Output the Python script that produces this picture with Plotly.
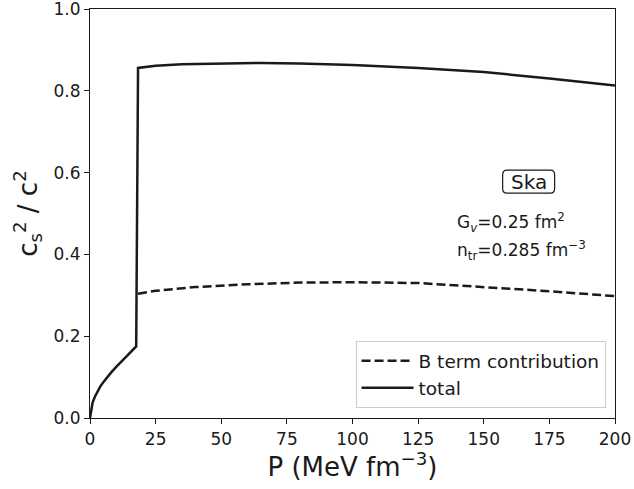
import plotly.graph_objects as go

# Speed of sound squared vs pressure (Ska, Gv = 0.25 fm^2, n_tr = 0.285 fm^-3)
P_total = [0, 0.5, 1, 2, 3, 4, 5, 6, 8, 10, 12, 14, 16, 17.6,
           18.3, 25, 35, 50, 65, 80, 100, 125, 150, 175, 200]
cs2_total = [0.0, 0.026, 0.038, 0.054, 0.067, 0.078, 0.087, 0.096, 0.111, 0.125,
             0.138, 0.151, 0.164, 0.175,
             0.856, 0.861, 0.865, 0.867, 0.868, 0.867, 0.863, 0.856, 0.846, 0.830, 0.813]

P_bterm = [18.3, 25, 40, 60, 80, 100, 125, 150, 175, 200]
cs2_bterm = [0.304, 0.311, 0.320, 0.327, 0.331, 0.332, 0.330, 0.320, 0.310, 0.298]

x_ticks = [0, 25, 50, 75, 100, 125, 150, 175, 200]
y_ticks = [0.0, 0.2, 0.4, 0.6, 0.8, 1.0]

FONT = "DejaVu Sans"
INK = "#1a1a1a"


def rounded_box(x0, x1, y0, y1, rx, ry):
    """SVG path for a rectangle with rounded corners (data units)."""
    return (f"M {x0 + rx},{y0} L {x1 - rx},{y0} Q {x1},{y0} {x1},{y0 + ry} "
            f"L {x1},{y1 - ry} Q {x1},{y1} {x1 - rx},{y1} "
            f"L {x0 + rx},{y1} Q {x0},{y1} {x0},{y1 - ry} "
            f"L {x0},{y0 + ry} Q {x0},{y0} {x0 + rx},{y0} Z")


fig = go.Figure()
fig.add_trace(go.Scatter(
    x=P_bterm, y=cs2_bterm, mode="lines", name="B term contribution",
    line=dict(color=INK, width=2.5, dash="9px,4px"),
))
fig.add_trace(go.Scatter(
    x=P_total, y=cs2_total, mode="lines", name="total",
    line=dict(color=INK, width=2.5),
))

# model label in a rounded frame
fig.add_shape(type="path", xref="x", yref="y",
              path=rounded_box(157.2, 177.0, 0.550, 0.606, 1.6, 0.012),
              line=dict(color=INK, width=1.2), fillcolor="white", layer="above")
fig.add_annotation(x=167.1, y=0.578, xref="x", yref="y", text="Ska",
                   showarrow=False, font=dict(family=FONT, size=20, color=INK))
fig.add_annotation(x=138.9, y=0.478, xref="x", yref="y", xanchor="left",
                   text="G<sub><i>v</i></sub>=0.25 fm<sup>2</sup>",
                   showarrow=False, font=dict(family=FONT, size=17, color=INK))
fig.add_annotation(x=138.9, y=0.41, xref="x", yref="y", xanchor="left",
                   text="n<sub>tr</sub>=0.285 fm<sup>−3</sup>",
                   showarrow=False, font=dict(family=FONT, size=17, color=INK))

axis_common = dict(
    showgrid=False, zeroline=False, showline=True, linecolor=INK, linewidth=1.2,
    mirror=True, ticks="outside", ticklen=5, tickwidth=1.2, tickcolor=INK,
    tickfont=dict(family=FONT, size=17, color=INK), automargin=False,
    ticklabeloverflow="allow",
)

fig.update_layout(
    width=634, height=489,
    margin=dict(l=90, r=19, t=9, b=71),
    paper_bgcolor="white", plot_bgcolor="white",
    font=dict(family=FONT, color=INK),
    xaxis=dict(range=[0, 200], tickvals=x_ticks, ticktext=[str(v) for v in x_ticks],
               title=dict(text="P (MeV fm<sup>−3</sup>)", font=dict(family=FONT, size=26, color=INK),
                          standoff=8),
               **axis_common),
    yaxis=dict(range=[0, 1.0], tickvals=y_ticks, ticktext=[f"{v:.1f}" for v in y_ticks],
               title=dict(text="c<sub>s</sub><sup>2</sup> / c<sup>2</sup>",
                          font=dict(family=FONT, size=26, color=INK), standoff=8),
               **axis_common),
    legend=dict(x=0.982, y=0.024, xanchor="right", yanchor="bottom",
                bgcolor="white", bordercolor="#cccccc", borderwidth=1,
                font=dict(family=FONT, size=18.5, color=INK), tracegroupgap=0,
                itemwidth=52),
    showlegend=True,
)

fig.write_html("out.html")
